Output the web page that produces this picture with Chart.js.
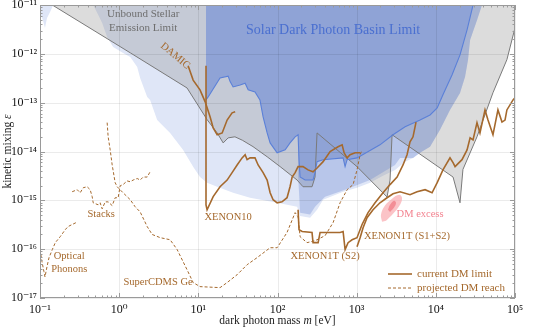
<!DOCTYPE html>
<html>
<head>
<meta charset="utf-8">
<script src="https://cdn.jsdelivr.net/npm/chart.js@4.4.1/dist/chart.umd.min.js"></script>
<style>
    html, body { margin: 0; padding: 0; background: #fff; }
    #wrap { width: 533px; height: 328px; }
</style>
</head>
<body>
<div id="wrap"><canvas id="chart" width="533" height="328"></canvas></div>
<script>
// 坐标轴刻度
const massTicks = [1e-1, 1e0, 1e1, 1e2, 1e3, 1e4, 1e5];
const massTickLabels = ['10⁻¹', '10⁰', '10¹', '10²', '10³', '10⁴', '10⁵'];
const mixingTicks = [1e-17, 1e-16, 1e-15, 1e-14, 1e-13, 1e-12, 1e-11];
const mixingTickLabels = ['10⁻¹⁷', '10⁻¹⁶', '10⁻¹⁵', '10⁻¹⁴', '10⁻¹³', '10⁻¹²', '10⁻¹¹'];

// 当前限制 (实线)  [质量 eV, 混合参数]
const damic = [[7.43, 5.7e-13], [8.6, 2.9e-13], [10.5, 1.83e-13], [12.2, 1.04e-13], [14.1, 5.1e-14], [15.4, 3.05e-14],
    [17.3, 2.2e-14], [20, 2.4e-14], [23.1, 4.4e-14], [26.7, 6.2e-14], [29.2, 6.5e-14]];
const xenon10 = [[12.5, 5.7e-13], [12.5, 8.1e-16], [12.9, 6.4e-16], [15.4, 1.19e-15], [18.8, 1.9e-15], [23.1, 2.6e-15],
    [26.7, 3.7e-15], [30.9, 5.3e-15], [35.7, 7.4e-15], [39, 8.6e-15], [41.3, 6.8e-15], [45, 7.4e-15], [52, 7.4e-15],
    [56.9, 5.3e-15], [65.8, 3.7e-15], [74, 2.6e-15], [80.7, 1.43e-15], [88, 1.03e-15], [99, 8.9e-16], [114, 9.3e-16],
    [132, 1.13e-15], [144, 1.9e-15], [153, 3.0e-15], [167, 3.7e-15], [182, 4.9e-15], [210, 4.9e-15], [243, 4.2e-15],
    [281, 3.85e-15], [316, 4.6e-15], [377, 6.2e-15], [462, 1.0e-14], [582, 1.25e-14], [655, 1.37e-14], [694, 9.4e-15],
    [757, 7.4e-15], [826, 8.6e-15], [955, 9.4e-15], [1105, 9.4e-15]];
const xenon1tS2 = [[182, 6.4e-16], [187, 2.5e-16], [205, 2.3e-16], [273, 2.2e-16], [281, 1.36e-16], [326, 1.36e-16],
    [345, 2.2e-16], [617, 2.2e-16], [674, 2.3e-16], [714, 9.8e-17], [779, 1.36e-16], [875, 1.56e-16], [1010, 1.72e-16],
    [1170, 3.2e-16], [1393, 5.6e-16], [1708, 8.9e-16], [2150, 1.43e-15], [2640, 2.1e-15], [3240, 3.0e-15],
    [3850, 5.3e-15], [4330, 8.6e-15], [4720, 1.58e-14], [5150, 2.0e-14], [5620, 4.0e-14]];
const xenon1tS1S2 = [[1010, 1.12e-16], [1105, 1.72e-16], [1205, 2.75e-16], [1352, 4.4e-16], [1610, 6.4e-16],
    [1970, 8.9e-16], [2420, 1.13e-15], [2880, 1.36e-15], [3530, 1.5e-15], [4720, 1.3e-15], [5790, 1.5e-15],
    [7310, 1.65e-15], [8960, 1.43e-15], [10400, 2.3e-15], [12300, 4.2e-15], [15100, 7.4e-15], [16500, 5.9e-15],
    [17500, 4.9e-15], [21400, 6.8e-15], [24800, 1.08e-14], [27100, 1.9e-14], [29500, 1.73e-14], [33100, 3.9e-14],
    [36100, 2.4e-14], [41800, 7.1e-14], [45600, 4.4e-14], [52700, 2.2e-14], [60900, 7.1e-14], [68500, 4.0e-14],
    [74800, 4.4e-14], [79000, 7.1e-14], [94400, 1.14e-13], [100000, 1.25e-13]];

// 预期灵敏度 (虚线)
const superCdmsGe = [[0.705, 3.9e-14], [0.726, 2.0e-14], [0.77, 1.08e-14], [0.816, 5.3e-15], [0.89, 2.3e-15],
    [0.944, 1.9e-15], [1.12, 1.43e-15], [1.38, 1.03e-15], [1.59, 7.4e-16], [1.84, 5.8e-16], [2.26, 2.9e-16],
    [2.61, 2.0e-16], [3.3, 1.72e-16], [4.4, 1.56e-16], [5.4, 9.8e-17], [7.2, 3.8e-17], [8.6, 2.07e-17],
    [10.5, 1.71e-17], [18.8, 1.63e-17], [23.1, 2.07e-17], [30.9, 3.0e-17], [41.3, 4.8e-17], [55.2, 6.7e-17],
    [80.7, 1.07e-16], [99, 1.07e-16], [132, 2.2e-16], [167, 5.6e-16], [182, 4.6e-16], [193, 1.8e-16],
    [236, 1.36e-16], [298, 1.49e-16], [399, 1.89e-16], [504, 3.5e-16], [617, 8.9e-16], [757, 1.65e-15],
    [901, 2.1e-15], [1010, 4.2e-15], [1105, 8.6e-15], [1170, 1.08e-14]];
const stacks = [[0.255, 1.5e-15], [0.295, 1.65e-15], [0.322, 1.43e-15], [0.351, 1.81e-15], [0.394, 1.9e-15],
    [0.43, 1.65e-15], [0.456, 1.19e-15], [0.47, 8.9e-16], [0.543, 8.1e-16], [0.575, 8.9e-16], [0.61, 6.7e-16],
    [0.666, 9.3e-16], [0.726, 9.3e-16], [0.816, 7.8e-16], [0.89, 1.13e-15], [0.971, 1.13e-15], [1.03, 1.99e-15],
    [1.12, 2.1e-15], [1.26, 2.5e-15], [1.38, 2.4e-15], [1.5, 2.6e-15], [1.69, 2.8e-15], [1.84, 2.6e-15],
    [2.01, 3.0e-15], [2.26, 3.0e-15], [2.46, 3.85e-15]];
const opticalPhonons = [[0.1, 9.8e-17], [0.106, 5.5e-17], [0.112, 3.5e-17], [0.1156, 2.7e-17], [0.1226, 4.4e-17],
    [0.13, 6.7e-17], [0.143, 9.8e-17], [0.156, 1.36e-16], [0.18, 1.8e-16], [0.208, 2.5e-16], [0.226, 2.9e-16],
    [0.255, 3.2e-16], [0.286, 3.5e-16]];

// 恒星发射限制边界
const stellarLimit = [[0.143, 1e-11], [1.38, 1.05e-12], [7.2, 2.0e-13], [12.9, 4.5e-14], [17.3, 2.4e-14],
    [20.6, 1.5e-14], [23.8, 1.9e-14], [29, 2.0e-14], [36, 1.7e-14], [49, 1.26e-14], [74, 7.8e-15], [108, 4.9e-15],
    [177, 2.6e-15], [210, 1.9e-15], [273, 1.9e-15], [298, 3.0e-15], [316, 2.4e-14], [1010, 4.9e-15],
    [2420, 1.17e-15], [2640, 2.6e-15], [2800, 2.2e-14], [16500, 3.0e-15], [20200, 8.9e-16], [22000, 4.3e-15],
    [33100, 2.0e-14], [52700, 1.6e-13], [79000, 7.6e-13], [100000, 3.4e-12]];

// 太阳暗光子盆地限制
const solarBasin = [[12.5, 1e-11], [12.5, 1.14e-13], [13.3, 1.31e-13], [18.8, 3.2e-13], [23.8, 3.5e-13],
    [25.2, 2.7e-13], [27.5, 2.1e-13], [33.7, 2.3e-13], [39, 2.5e-13], [42.6, 1.83e-13], [52, 1.66e-13],
    [60, 1.14e-13], [65.8, 5.1e-14], [74, 2.4e-14], [80.7, 1.5e-14], [98.9, 9.4e-15], [125, 1.08e-14],
    [144, 1.5e-14], [167, 2.0e-14], [182, 2.2e-14], [187, 6.8e-15], [193, 3.0e-15], [223, 2.6e-15],
    [281, 2.6e-15], [298, 3.7e-15], [316, 6.2e-15], [377, 6.8e-15], [674, 7.4e-15], [714, 4.9e-15],
    [757, 6.8e-15], [1010, 7.4e-15], [1970, 1.37e-14], [2880, 2.2e-14], [4090, 3.2e-14], [6320, 4.4e-14],
    [8450, 5.6e-14], [10400, 7.8e-14], [12300, 1.45e-13], [16000, 3.7e-13], [20200, 9.5e-13], [24800, 3.1e-12],
    [29500, 1e-11]];
const basinMid = [[182, 1e-11], [182, 3.3e-15], [193, 5.6e-16], [258, 5.1e-16], [298, 7.4e-16], [399, 1.19e-15],
    [714, 1.65e-15], [1476, 2.6e-15], [3050, 5.3e-15], [3530, 7.4e-15], [5150, 7.4e-15], [6320, 9.4e-15],
    [8450, 1.25e-14], [11300, 2.8e-14], [15100, 7.1e-14], [20200, 1.58e-13], [23400, 3.4e-13], [25500, 7.5e-13],
    [27100, 1.92e-12], [33100, 4.9e-12], [38300, 1e-11]];
const basinOuter = [[0.47, 1e-11], [38300, 1e-11], [33100, 4.9e-12], [27100, 1.92e-12], [25500, 7.5e-13],
    [23400, 3.4e-13], [20200, 1.58e-13], [15100, 7.1e-14], [11300, 2.8e-14], [8450, 1.25e-14], [6320, 9.4e-15],
    [5150, 7.4e-15], [4090, 6.2e-15], [3050, 4.2e-15], [2150, 3.2e-15], [1476, 2.3e-15], [1010, 1.81e-15],
    [674, 1.5e-15], [504, 1.24e-15], [377, 1.03e-15], [316, 6.4e-16], [258, 4.4e-16], [193, 4.8e-16],
    [177, 7.4e-16], [99, 8.9e-16], [45, 1.13e-15], [27.5, 1.43e-15], [17.3, 1.9e-15], [12.9, 2.3e-15],
    [10.5, 3.0e-15], [8.6, 4.9e-15], [6.4, 1.08e-14], [4.4, 2.4e-14], [3.02, 4.4e-14], [2.46, 1.14e-13],
    [2.26, 1.31e-13], [1.84, 3.2e-13], [1.69, 5.4e-13], [1.38, 8.6e-13], [1.12, 1.04e-12], [0.84, 1.38e-12],
    [0.705, 2.2e-12], [0.61, 4.3e-12], [0.527, 6.9e-12]];
const basinCorner = [[0.1, 1e-11], [0.1, 6.9e-12], [0.109, 4.9e-12], [0.1156, 3.4e-12], [0.1226, 5.4e-12],
    [0.134, 7.2e-12], [0.147, 1e-11]];

// DM excess 区域轮廓
const excessOuter = [[2090, 3.65e-16], [2030, 5.1e-16], [2280, 7.8e-16], [2800, 1.08e-15], [3430, 1.3e-15],
    [3740, 1.13e-15], [3530, 8.1e-16], [2880, 5.3e-16], [2350, 3.8e-16]];
const excessInner = [[2490, 6.4e-16], [2640, 8.1e-16], [2970, 9.8e-16], [3140, 8.9e-16], [2970, 7.1e-16],
    [2640, 5.8e-16]];

const BROWN = '#a5692d';
const SERIF = '"Liberation Serif", "DejaVu Serif", serif';

// 图中文字注释
const plotNotes = [
    { text: 'Unbound Stellar', m: 2.01, eps: 6.5e-12, color: '#6e6e6e', size: 11 },
    { text: 'Emission Limit', m: 2.01, eps: 3.4e-12, color: '#6e6e6e', size: 11 },
    { text: 'Solar Dark Photon Basin Limit', m: 504, eps: 3.1e-12, color: '#4a6fd0', size: 14 },
    { text: 'DAMIC', m: 5.1, eps: 9.1e-13, color: BROWN, size: 10.5, angle: 40 },
    { text: 'Stacks', m: 0.593, eps: 5.1e-16, color: BROWN, size: 10.5 },
    { text: 'Optical', m: 0.234, eps: 7.0e-17, color: BROWN, size: 10.5 },
    { text: 'Phonons', m: 0.234, eps: 3.8e-17, color: BROWN, size: 10.5 },
    { text: 'SuperCDMS Ge', m: 3.1, eps: 2.07e-17, color: BROWN, size: 10.5 },
    { text: 'XENON10', m: 23.8, eps: 4.6e-16, color: BROWN, size: 10.5 },
    { text: 'XENON1T (S2)', m: 399, eps: 7.0e-17, color: BROWN, size: 10.5 },
    { text: 'XENON1T (S1+S2)', m: 4330, eps: 1.8e-16, color: BROWN, size: 10.5 },
    { text: 'DM excess', m: 6320, eps: 5.1e-16, color: '#f3828f', size: 10.5 }
];

function toPoints(arr) {
    return arr.map(([m, eps]) => ({ x: m, y: eps }));
}

function lineSet(name, arr, color, width, order, dash) {
    return {
        label: name, data: toPoints(arr), showLine: true, fill: false,
        borderColor: color, borderWidth: width, borderDash: dash || [],
        pointRadius: 0, tension: 0, order: order
    };
}

function areaSet(name, arr, color, order, tension) {
    return {
        label: name, data: toPoints(arr), showLine: true, fill: 'shape',
        backgroundColor: color, borderColor: 'rgba(0,0,0,0)', borderWidth: 0,
        pointRadius: 0, tension: tension || 0, order: order
    };
}

/**
 * 在主要填充区域之后画网格线
 */
const gridPlugin = {
    id: 'gridOverFill',
    afterDatasetDraw(chart, args) {
        if (chart.data.datasets[args.index].label !== 'basin') return;
        const { ctx, chartArea: a, scales: { x, y } } = chart;
        ctx.save();
        ctx.strokeStyle = 'rgba(0,0,0,0.08)';
        ctx.lineWidth = 1;
        ctx.beginPath();
        massTicks.forEach(v => {
            const px = Math.round(x.getPixelForValue(v)) + 0.5;
            ctx.moveTo(px, a.top); ctx.lineTo(px, a.bottom);
        });
        mixingTicks.forEach(v => {
            const py = Math.round(y.getPixelForValue(v)) + 0.5;
            ctx.moveTo(a.left, py); ctx.lineTo(a.right, py);
        });
        ctx.stroke();
        ctx.restore();
    }
};

/**
 * 文字注释、图例、坐标框、内向刻度和轴标题
 */
const decorPlugin = {
    id: 'decor',
    afterDraw(chart) {
        const { ctx, chartArea: a, scales: { x, y } } = chart;
        ctx.save();

        // 注释
        ctx.textAlign = 'center';
        ctx.textBaseline = 'middle';
        plotNotes.forEach(n => {
            ctx.save();
            ctx.font = `${n.size}px ${SERIF}`;
            ctx.fillStyle = n.color;
            ctx.translate(x.getPixelForValue(n.m), y.getPixelForValue(n.eps));
            if (n.angle) ctx.rotate(n.angle * Math.PI / 180);
            ctx.fillText(n.text, 0, 0);
            ctx.restore();
        });

        // 图例
        const lx = a.right - 127;
        [[a.bottom - 24, [], 'current DM limit', 1.6], [a.bottom - 10, [3, 2], 'projected DM reach', 1]].forEach(([ly, dash, txt, w]) => {
            ctx.strokeStyle = BROWN;
            ctx.lineWidth = w;
            ctx.setLineDash(dash);
            ctx.beginPath();
            ctx.moveTo(lx, ly); ctx.lineTo(lx + 24, ly);
            ctx.stroke();
            ctx.setLineDash([]);
            ctx.fillStyle = BROWN;
            ctx.font = `11px ${SERIF}`;
            ctx.textAlign = 'left';
            ctx.fillText(txt, lx + 29, ly);
        });

        // 坐标框
        ctx.strokeStyle = '#9a9a9a';
        ctx.lineWidth = 1;
        ctx.strokeRect(a.left + 0.5, a.top + 0.5, a.right - a.left - 1, a.bottom - a.top - 1);

        // 内向刻度
        ctx.beginPath();
        for (let d = 0; d < massTicks.length; d++) {
            for (let k = 1; k <= 9; k++) {
                const v = massTicks[d] * k;
                if (v > massTicks[massTicks.length - 1]) break;
                const px = Math.round(x.getPixelForValue(v)) + 0.5;
                const len = k === 1 ? 5 : 2.5;
                ctx.moveTo(px, a.bottom); ctx.lineTo(px, a.bottom - len);
                ctx.moveTo(px, a.top); ctx.lineTo(px, a.top + len);
            }
        }
        for (let d = 0; d < mixingTicks.length; d++) {
            for (let k = 1; k <= 9; k++) {
                const v = mixingTicks[d] * k;
                if (v > mixingTicks[mixingTicks.length - 1]) break;
                const py = Math.round(y.getPixelForValue(v)) + 0.5;
                const len = k === 1 ? 5 : 2.5;
                ctx.moveTo(a.left, py); ctx.lineTo(a.left + len, py);
                ctx.moveTo(a.right, py); ctx.lineTo(a.right - len, py);
            }
        }
        ctx.stroke();

        // 轴标题
        ctx.fillStyle = '#222';
        drawMixed(ctx, [['dark photon mass ', false], ['m', true], [' [eV]', false]], (a.left + a.right) / 2, 321, 0);
        drawMixed(ctx, [['kinetic mixing ', false], ['ε', true]], 8, (a.top + a.bottom) / 2, -Math.PI / 2);
        ctx.restore();
    }
};

function drawMixed(ctx, parts, cx, cy, angle) {
    ctx.save();
    ctx.translate(cx, cy);
    ctx.rotate(angle);
    ctx.textAlign = 'left';
    ctx.textBaseline = 'middle';
    const fontOf = italic => `${italic ? 'italic ' : ''}11.5px ${SERIF}`;
    let total = 0;
    parts.forEach(([t, it]) => { ctx.font = fontOf(it); total += ctx.measureText(t).width; });
    let pos = -total / 2;
    parts.forEach(([t, it]) => {
        ctx.font = fontOf(it);
        ctx.fillText(t, pos, 0);
        pos += ctx.measureText(t).width;
    });
    ctx.restore();
}

function initChart() {
    const ctx = document.getElementById('chart').getContext('2d');
    new Chart(ctx, {
        type: 'scatter',
        data: {
            datasets: [
                lineSet('XENON10', xenon10, BROWN, 1.6, 1),
                lineSet('DAMIC', damic, BROWN, 1.6, 1),
                lineSet('XENON1T (S2)', xenon1tS2, BROWN, 1.6, 1),
                lineSet('XENON1T (S1+S2)', xenon1tS1S2, BROWN, 1.6, 1),
                lineSet('SuperCDMS Ge', superCdmsGe, BROWN, 1, 2, [3, 2]),
                lineSet('Stacks', stacks, BROWN, 1, 2, [3, 2]),
                lineSet('Optical Phonons', opticalPhonons, BROWN, 1, 2, [3, 2]),
                areaSet('excessInner', excessInner, 'rgba(240,120,130,0.7)', 3, 0.4),
                areaSet('excessOuter', excessOuter, 'rgba(250,170,175,0.7)', 3, 0.4),
                lineSet('basinEdge', solarBasin.slice(1), '#5b80d8', 1.1, 4),
                lineSet('stellarEdge', stellarLimit, '#7a7a7a', 1, 5),
                areaSet('basin', solarBasin, '#8fa3d6', 6),
                areaSet('basinMid', basinMid, 'rgba(95,125,205,0.30)', 7),
                areaSet('stellar', stellarLimit.concat([[100000, 1e-11]]), 'rgba(130,130,130,0.28)', 8),
                areaSet('basinOuter', basinOuter, '#dfe6f7', 9),
                areaSet('basinCorner', basinCorner, '#dfe6f7', 9)
            ]
        },
        options: {
            responsive: false,
            animation: false,
            events: [],
            layout: { padding: { left: 0, right: 18, top: 5, bottom: 0 } },
            plugins: { legend: { display: false }, tooltip: { enabled: false } },
            scales: {
                x: {
                    type: 'logarithmic', min: 0.1, max: 1e5,
                    grid: { display: false, drawTicks: false },
                    border: { display: false },
                    afterBuildTicks: s => { s.ticks = massTicks.map(v => ({ value: v })); },
                    afterFit: s => { s.height = 30; s.paddingLeft = 0; s.paddingRight = 0; },
                    ticks: {
                        padding: 5, maxRotation: 0, color: '#111',
                        font: { family: SERIF, size: 12 },
                        callback: v => massTickLabels[massTicks.indexOf(v)] || ''
                    }
                },
                y: {
                    type: 'logarithmic', min: 1e-17, max: 1e-11,
                    grid: { display: false, drawTicks: false },
                    border: { display: false },
                    afterBuildTicks: s => { s.ticks = mixingTicks.map(v => ({ value: v })); },
                    afterFit: s => { s.width = 40; s.paddingTop = 0; s.paddingBottom = 0; },
                    ticks: {
                        padding: 3, color: '#111',
                        font: { family: SERIF, size: 12 },
                        callback: v => mixingTickLabels[mixingTicks.indexOf(v)] || ''
                    }
                }
            }
        },
        plugins: [gridPlugin, decorPlugin]
    });
}

if (document.readyState === 'loading') {
    document.addEventListener('DOMContentLoaded', initChart);
} else {
    initChart();
}
</script>
</body>
</html>
